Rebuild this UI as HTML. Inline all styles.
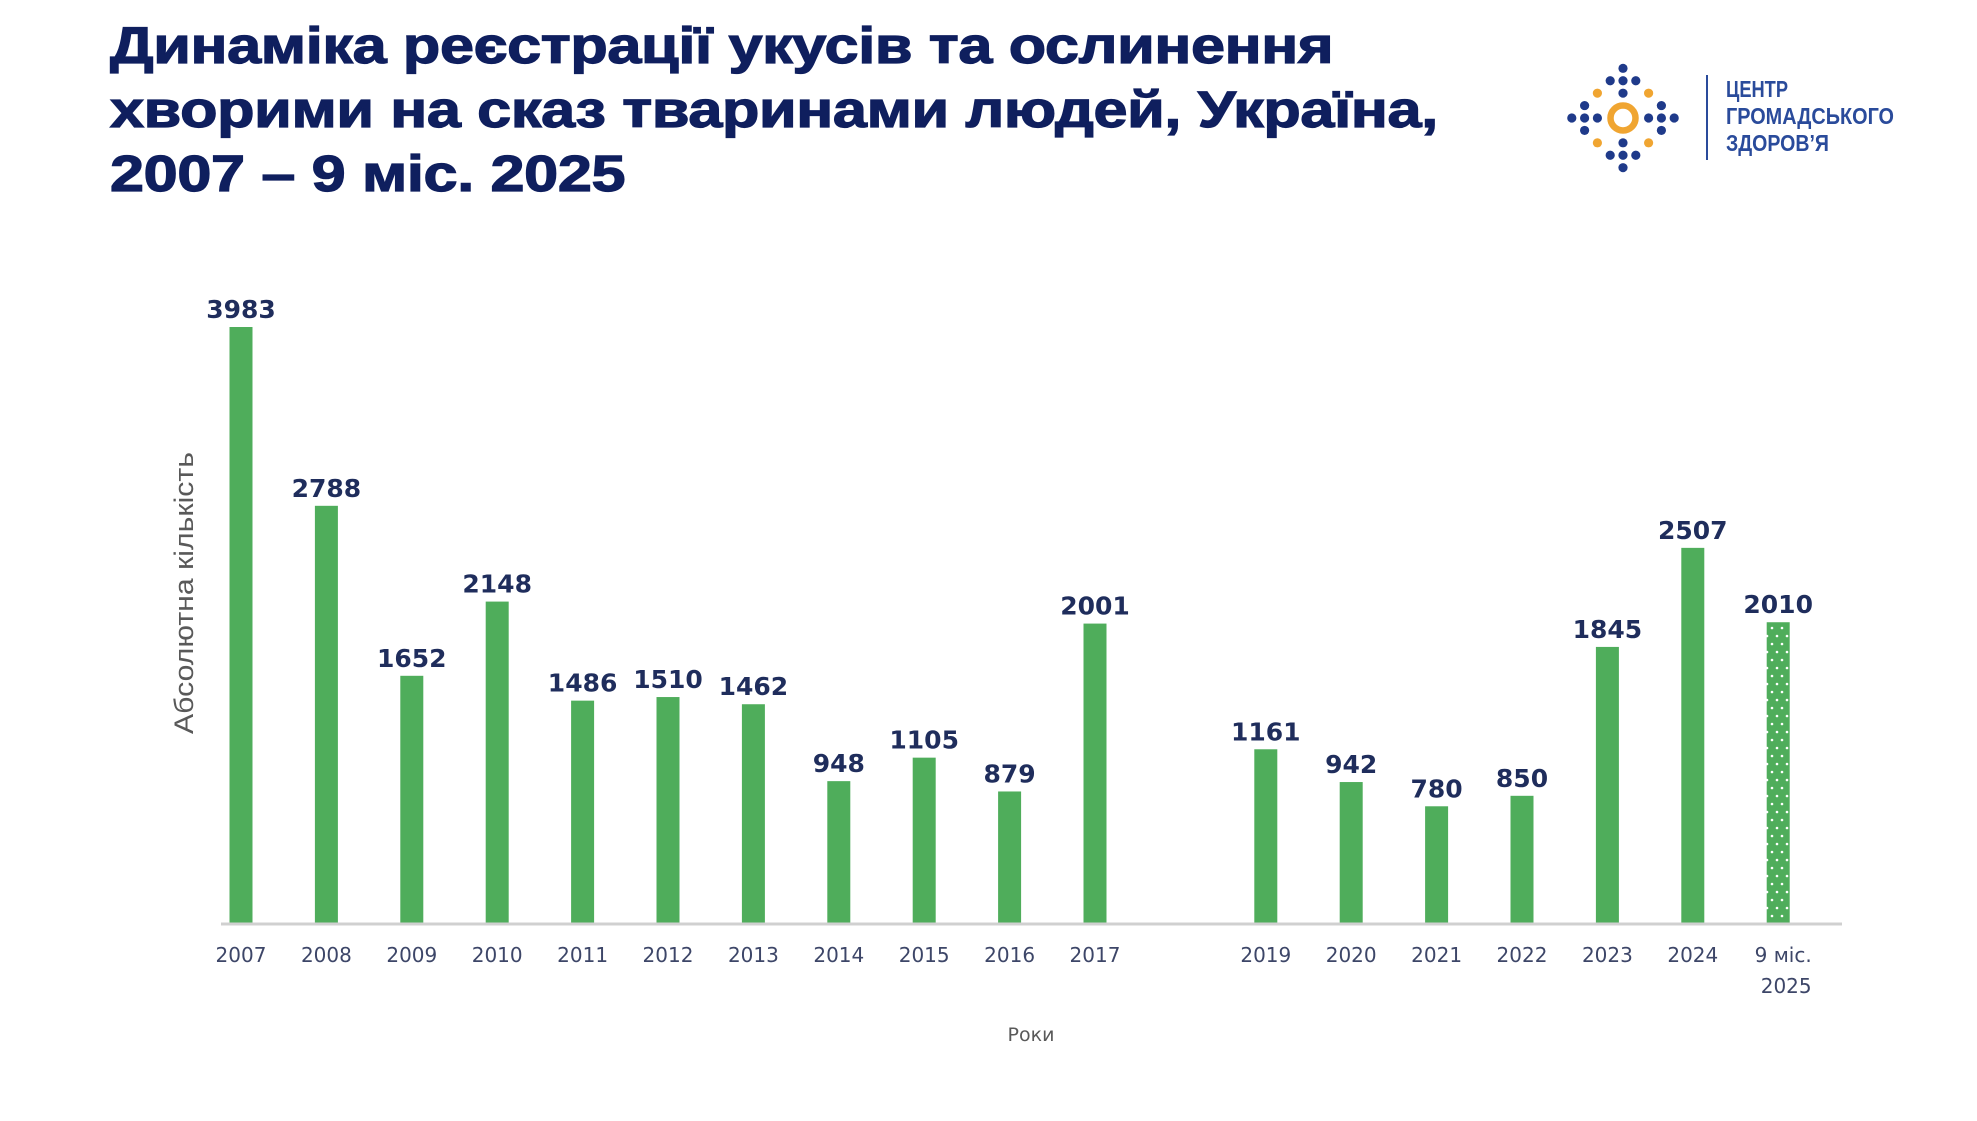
<!DOCTYPE html>
<html><head><meta charset="utf-8"><style>
html,body{margin:0;padding:0;background:#fff;}
body{width:1977px;height:1121px;overflow:hidden;position:relative;font-family:"Liberation Sans",sans-serif;}
#title{position:absolute;left:110px;top:14px;margin:0;font:bold 51px/64px "Liberation Sans",sans-serif;color:#0f1f5e;letter-spacing:-0.3px;transform:scaleX(1.2);transform-origin:left top;-webkit-text-stroke:1.2px #0f1f5e;white-space:nowrap;}
svg{position:absolute;left:0;top:0;}
</style></head><body>
<h1 id="title">Динаміка реєстрації укусів та ослинення<br>хворими на сказ тваринами людей, Україна,<br>2007 – 9 міс. 2025</h1>
<svg id="chart" width="1977" height="1121">
<defs>
<pattern id="dots" width="10" height="16" patternUnits="userSpaceOnUse">
<rect width="10" height="16" fill="#4fad5b"/>
<circle cx="2" cy="4" r="1.3" fill="#fff"/><circle cx="7" cy="12" r="1.3" fill="#fff"/>
</pattern>
</defs>
<g id="logo"></g>
<line x1="1707" y1="75" x2="1707" y2="160" stroke="#2a4b9b" stroke-width="2"/>
<g font-family="'Liberation Sans Narrow','Liberation Sans',sans-serif" font-weight="bold" font-size="23" fill="#2a4b9b">
<text x="1726" y="97" textLength="62" lengthAdjust="spacingAndGlyphs">ЦЕНТР</text>
<text x="1726" y="124" textLength="168" lengthAdjust="spacingAndGlyphs">ГРОМАДСЬКОГО</text>
<text x="1726" y="151" textLength="103" lengthAdjust="spacingAndGlyphs">ЗДОРОВ’Я</text>
</g>
<g id="bars"></g>
<line x1="221" y1="924" x2="1842" y2="924" stroke="#d0d0d0" stroke-width="3"/>
<text x="0" y="0" transform="translate(193,593) rotate(-90)" text-anchor="middle" font-family="'Liberation Sans',sans-serif" font-size="27" fill="#595959" textLength="282" lengthAdjust="spacingAndGlyphs">Абсолютна кількість</text>
<text x="1031" y="1041" text-anchor="middle" font-family="'DejaVu Sans',sans-serif" font-size="19" fill="#595959">Роки</text>
</svg>
<script>
const categories=["2007","2008","2009","2010","2011","2012","2013","2014","2015","2016","2017","","2019","2020","2021","2022","2023","2024","9 міс.|2025"];
const values=[3983,2788,1652,2148,1486,1510,1462,948,1105,879,2001,null,1161,942,780,850,1845,2507,2010];
const NS="http://www.w3.org/2000/svg";
const x0=241,step=85.4,base=923,top0=327,maxV=3983,bw=23;
function xPos(i){return x0+i*step;}
function yPos(v){return base-(v/maxV)*(base-top0);}
const g=document.getElementById('bars');
categories.forEach((c,i)=>{
 const cx=xPos(i);
 const v=values[i];
 if(v!==null){
  const r=document.createElementNS(NS,'rect');
  r.setAttribute('x',cx-bw/2);r.setAttribute('y',yPos(v));
  r.setAttribute('width',bw);r.setAttribute('height',base-yPos(v));
  r.setAttribute('fill',i===categories.length-1?'url(#dots)':'#4fad5b');
  
  
  g.appendChild(r);
  const t=document.createElementNS(NS,'text');
  t.setAttribute('x',cx);t.setAttribute('y',yPos(v)-9);
  t.setAttribute('text-anchor','middle');
  t.setAttribute('font-family','DejaVu Sans, sans-serif');
  t.setAttribute('font-weight','bold');t.setAttribute('font-size','25');
  t.setAttribute('fill','#1f2d5c');
  t.textContent=v;
  
  
  g.appendChild(t);
 }
 if(c){
  c.split('|').forEach((line,k)=>{
   const l=document.createElementNS(NS,'text');
   l.setAttribute('x',cx+(k===0&&c.includes('|')?5:0)+(k===1?8:0));
   l.setAttribute('y',962+k*31);
   l.setAttribute('text-anchor','middle');
   l.setAttribute('font-family','DejaVu Sans, sans-serif');
   l.setAttribute('font-size','20');l.setAttribute('fill','#3d4668');
   l.textContent=line;
   
   
   g.appendChild(l);
  });
 }
});
// logo dots
const logo=document.getElementById('logo');
const lc=[1623,118],u=12.8;
const navy=[[0,-4],[-1,-3],[0,-3],[1,-3],[0,-2],[-3,-1],[3,-1],[-4,0],[-3,0],[-2,0],[2,0],[3,0],[4,0],[-3,1],[3,1],[0,2],[-1,3],[0,3],[1,3],[0,4]];
const orange=[[-2,-2],[2,-2],[-2,2],[2,2]];
navy.forEach(p=>{const c=document.createElementNS(NS,'circle');c.setAttribute('cx',lc[0]+p[0]*u);c.setAttribute('cy',lc[1]+p[1]*u*0.97);c.setAttribute('r',4.6);c.setAttribute('fill','#1f3a8a');


logo.appendChild(c);});
orange.forEach(p=>{const c=document.createElementNS(NS,'circle');c.setAttribute('cx',lc[0]+p[0]*u);c.setAttribute('cy',lc[1]+p[1]*u*0.97);c.setAttribute('r',4.6);c.setAttribute('fill','#f0a531');


logo.appendChild(c);});
const ring=document.createElementNS(NS,'circle');
ring.setAttribute('cx',lc[0]);ring.setAttribute('cy',lc[1]);ring.setAttribute('r',12.5);ring.setAttribute('fill','none');ring.setAttribute('stroke','#f0a531');ring.setAttribute('stroke-width','6.5');


logo.appendChild(ring);
</script>
</body></html>
